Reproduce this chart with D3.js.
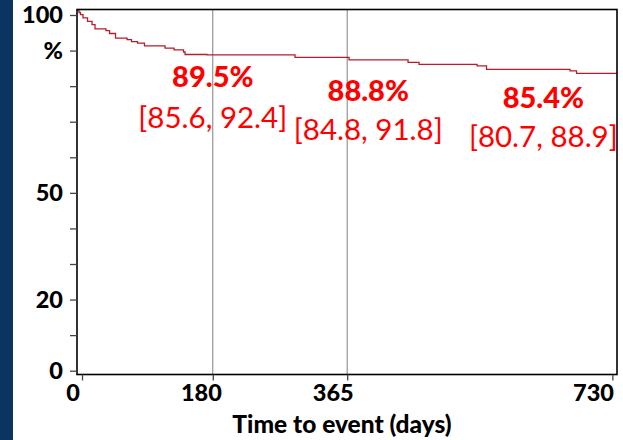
<!DOCTYPE html>
<html><head><meta charset="utf-8">
<script src="https://cdn.jsdelivr.net/npm/d3@7"></script>
<style>body{margin:0;background:#fff}svg{display:block}</style>
</head><body>
<script>
// Kaplan-Meier step curve
const days = [-6.2, -4.1, -2.1, 1.4, 7.6, 13.8, 17.9, 33.0, 37.9, 46.1, 62.0, 68.1, 76.4, 86.0, 114.3, 126.7, 139.7, 141.8, 172.1, 293.2, 367.6, 448.8, 463.9, 543.8, 556.8, 671.8, 680.7, 736.4];
const survival = [101.4, 100.7, 100.1, 99.2, 98.2, 97.3, 96.1, 95.6, 94.8, 93.5, 93.1, 92.5, 92.1, 91.3, 90.7, 90.2, 89.6, 88.9, 88.8, 88.1, 87.4, 86.7, 86.1, 85.7, 84.7, 84.3, 83.6, 83.6];
const yTicks = [0, 10, 20, 30, 40, 50, 60, 70, 80, 90, 100];
const yTickLabels = ["0", "", "20", "", "", "50", "", "", "", "%", "100"];
const xTicks = [0, 180, 365, 730];
const xTickLabels = ["0", "180", "365", "730"];
const refDays = [180, 365];
const annoPct = ["89.5%", "88.8%", "85.4%"];
const annoCI = ["[85.6, 92.4]", "[84.8, 91.8]", "[80.7, 88.9]"];
const xTitle = "Time to event (days)";

// layout
const W = 623, H = 440;
const annoX = [180, 394, 635];
const annoPctY = [87, 101, 108];
const annoCIY = [128, 140, 147];
const font = "Lato, 'Open Sans', sans-serif";

const svg = d3.select("body").append("svg").attr("width", W).attr("height", H);
svg.append("rect").attr("x", 0).attr("y", 0).attr("width", 13).attr("height", H).attr("fill", "#0b3461");

const x = d3.scaleLinear().domain([-6.9, 736.4]).range([77, 617]);
const y = d3.scaleLinear().domain([-1.07, 101.55]).range([374.5, 9.5]);
const xLabel = d3.scaleLinear().domain([0, 730]).range([72.5, 593]);

// reference lines
svg.selectAll("line.ref").data(refDays).join("line")
  .attr("x1", d => x(d)).attr("x2", d => x(d))
  .attr("y1", y.range()[1]).attr("y2", y.range()[0])
  .attr("stroke", "#7f7f7f").attr("stroke-width", 1);

// curve
const pts = days.map((d, i) => [d, survival[i]]);
svg.append("path").datum(pts)
  .attr("d", d3.line().x(d => x(d[0])).y(d => y(d[1])).curve(d3.curveStepAfter))
  .attr("fill", "none").attr("stroke", "#b71c2c").attr("stroke-width", 1.3);

// frame
svg.append("rect").attr("x", 77).attr("y", 9.5).attr("width", 540).attr("height", 365)
  .attr("fill", "none").attr("stroke", "#000").attr("stroke-width", 1.6);

// y axis
const yAxis = d3.axisLeft(y).tickValues(yTicks).tickSize(7).tickPadding(7)
  .tickFormat((d, i) => yTickLabels[i]);
const gy = svg.append("g").attr("transform", "translate(77,0)").call(yAxis);
gy.select(".domain").remove();
gy.selectAll(".tick line").attr("stroke", "#444").attr("stroke-width", 1.3);
gy.selectAll(".tick text").attr("font-family", font).attr("font-weight", 900)
  .attr("font-size", 23.5).attr("fill", "#000");

// x axis
const xAxis = d3.axisBottom(x).tickValues(xTicks).tickSize(6).tickPadding(4)
  .tickFormat((d, i) => xTickLabels[i]);
const gx = svg.append("g").attr("transform", "translate(0,374.5)").call(xAxis);
gx.select(".domain").remove();
gx.selectAll(".tick line").attr("stroke", "#444").attr("stroke-width", 1.3);
gx.selectAll(".tick text").attr("font-family", font).attr("font-weight", 900)
  .attr("font-size", 23.5).attr("fill", "#000")
  .attr("x", d => xLabel(d) - x(d));

svg.append("text").attr("x", 342).attr("y", 433).attr("text-anchor", "middle")
  .attr("font-family", font).attr("font-weight", 900).attr("font-size", 24.5)
  .text(xTitle);

// annotations
svg.selectAll("text.pct").data(annoPct).join("text")
  .attr("x", (d, i) => x(annoX[i])).attr("y", (d, i) => annoPctY[i])
  .attr("text-anchor", "middle").attr("font-family", font).attr("font-weight", 900)
  .attr("font-size", 29).attr("fill", "#ff0000").text(d => d);
svg.selectAll("text.ci").data(annoCI).join("text")
  .attr("x", (d, i) => x(annoX[i])).attr("y", (d, i) => annoCIY[i])
  .attr("text-anchor", "middle").attr("font-family", font).attr("font-weight", 400)
  .attr("font-size", 29.5).attr("fill", "#ff0000").text(d => d);
</script>
</body></html>
